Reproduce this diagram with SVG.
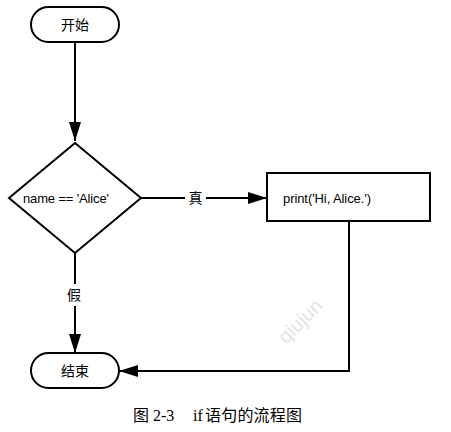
<svg xmlns="http://www.w3.org/2000/svg" width="451" height="432" viewBox="0 0 451 432">
  <defs>
    <marker id="arrow" markerUnits="userSpaceOnUse" markerWidth="19" markerHeight="12" viewBox="0 0 19 12" refX="19" refY="6" orient="auto">
      <path d="M0,0 L19,6 L0,12 z" fill="#000"/>
    </marker>
  </defs>
  <style>
    .shape { fill: #fff; stroke: #000; stroke-width: 2; }
    .edge { fill: none; stroke: #000; stroke-width: 2; }
    .lbl { font-family: "Liberation Sans", "Noto Sans CJK SC", sans-serif; font-size: 14px; fill: #000; text-anchor: middle; dominant-baseline: central; }
    .code { font-family: "Liberation Sans", "Noto Sans CJK SC", sans-serif; font-size: 13px; fill: #000; dominant-baseline: central; }
    .cap { font-family: "Liberation Serif", "Noto Sans CJK SC", serif; font-size: 16px; fill: #000; }
    .wm { font-family: "Liberation Sans", sans-serif; font-size: 20px; fill: #e4e4e4; text-anchor: middle; dominant-baseline: central; }
  </style>
  <rect width="451" height="432" fill="#fff"/>
  <text class="wm" transform="translate(300,321) rotate(-45)">qiujun</text>
  <g id="connectors">
    <path class="edge" d="M75 42 V141" marker-end="url(#arrow)"/>
    <path class="edge" d="M141 198 H267" marker-end="url(#arrow)"/>
    <rect x="185" y="189" width="21" height="18" fill="#fff"/>
    <text class="lbl" x="195.5" y="198">真</text>
    <path class="edge" d="M75 253 V353" marker-end="url(#arrow)"/>
    <rect x="65" y="284" width="20" height="22" fill="#fff"/>
    <text class="lbl" x="74" y="294.5">假</text>
    <path class="edge" d="M349 221 V371 H119" marker-end="url(#arrow)"/>
  </g>
  <g id="start">
    <rect class="shape" x="31" y="7" width="88" height="35" rx="17.5" ry="17.5"/>
    <text class="lbl" x="75" y="25">开始</text>
  </g>
  <g id="decision">
    <polygon class="shape" points="75,143 141,198 75,253 9,198"/>
    <text class="code" x="23" y="198" textLength="86">name == 'Alice'</text>
  </g>
  <g id="print">
    <rect class="shape" x="267" y="173" width="163" height="48"/>
    <text class="code" x="283" y="198" textLength="88">print('Hi, Alice.')</text>
  </g>
  <g id="end">
    <rect class="shape" x="31" y="353" width="88" height="35" rx="17.5" ry="17.5"/>
    <text class="lbl" x="75" y="371">结束</text>
  </g>
  <g id="caption">
    <text class="cap" x="133" y="421">图</text>
    <text class="cap" x="153" y="421">2-3</text>
    <text class="cap" x="193" y="421">if</text>
    <text class="cap" x="205" y="421" textLength="97">语句的流程图</text>
  </g>
</svg>
